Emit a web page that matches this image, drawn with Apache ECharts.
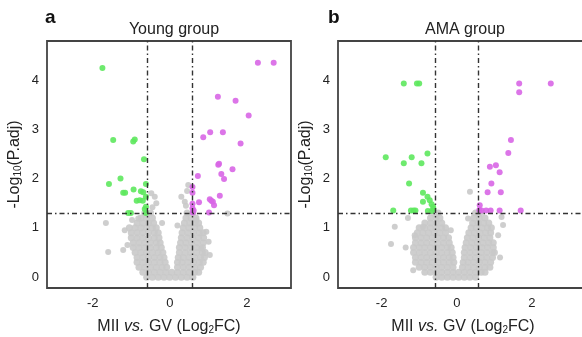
<!DOCTYPE html>
<html>
<head>
<meta charset="utf-8">
<script src="https://cdn.jsdelivr.net/npm/echarts@6/dist/echarts.min.js"></script>
<style>
  html, body { margin: 0; padding: 0; background: #fff; }
  #chart { width: 582px; height: 337px; }
</style>
</head>
<body>
<div id="chart"></div>
<script>
// thresholds
const fcCut = 0.585
const pCut = 1.301

const xTicks = [-2, 0, 2]
const yTicks = [0, 1, 2, 3, 4]

// Young group
const youngDown = [[-1.75,4.24],[-1.47,2.78],[-0.95,2.75],[-0.91,2.79],[-0.67,2.39],[-1.28,2.00],[-1.58,1.89],
  [-1.21,1.71],[-1.16,1.71],[-0.94,1.78],[-0.75,1.74],[-0.62,1.89],[-0.86,1.55],[-0.78,1.56],[-0.70,1.55],
  [-0.62,1.63],[-0.62,1.43],[-1.08,1.30],[-1.01,1.30],[-0.62,1.30],[-0.65,1.38],[-0.69,1.72]]
const youngUp = [[2.29,4.35],[2.70,4.35],[1.25,3.66],[1.71,3.58],[2.05,3.28],[0.87,2.84],[1.05,2.94],[1.38,2.94],
  [1.84,2.71],[1.26,2.28],[1.28,2.30],[1.63,2.19],[0.73,2.05],[1.34,2.09],[1.41,1.99],[0.59,1.83],[0.59,1.71],
  [1.30,1.65],[0.76,1.52],[1.04,1.58],[1.08,1.55],[1.12,1.53],[1.15,1.46],[0.59,1.40],[0.60,1.31],[1.02,1.31],
  [0.59,1.49],[0.62,1.35]]
const youngGreyOut = [[-1.66,1.10],[-1.60,0.51],[-1.21,0.55],[-1.10,0.65],[-1.17,0.95],[-0.98,1.16],[-0.82,1.19],
  [-0.35,1.50],[-0.39,1.63],[-0.48,1.70],[0.30,1.63],[0.39,1.53],[0.48,1.87],[0.69,1.16],[0.95,0.92],[1.01,0.72],
  [1.04,0.45],[1.50,1.29],[0.82,0.58],[0.42,1.45],[0.45,1.75],[-0.45,1.42],[-0.20,1.10],[0.20,1.05]]
// grey cloud, one row per y level: [y, [x values]]
const youngCloud = [
  [0.0, [-0.6,-0.45,-0.3,-0.15,0,0.15,0.3,0.45,0.6]],
  [0.1, [-0.7,-0.55,-0.4,-0.25,-0.1,0.05,0.2,0.35,0.5,0.65,0.75]],
  [0.2, [-0.8,-0.65,-0.5,-0.35,-0.2,-0.08,0.2,0.35,0.5,0.65,0.8]],
  [0.3, [-0.85,-0.7,-0.55,-0.4,-0.25,-0.12,0.2,0.32,0.47,0.62,0.77,0.87]],
  [0.4, [-0.85,-0.7,-0.55,-0.4,-0.25,-0.15,0.22,0.35,0.5,0.65,0.8,0.9]],
  [0.5, [-0.9,-0.75,-0.6,-0.45,-0.3,-0.18,0.25,0.4,0.55,0.7,0.85,0.92]],
  [0.6, [-0.95,-0.8,-0.65,-0.5,-0.35,-0.22,0.25,0.4,0.55,0.7,0.85]],
  [0.7, [-0.95,-0.8,-0.65,-0.5,-0.35,-0.25,0.28,0.42,0.57,0.72,0.87]],
  [0.8, [-1.0,-0.85,-0.7,-0.55,-0.4,-0.28,0.3,0.45,0.6,0.75,0.88]],
  [0.9, [-1.0,-0.85,-0.7,-0.55,-0.4,-0.3,0.32,0.47,0.62,0.77,0.87]],
  [1.0, [-1.05,-0.9,-0.75,-0.6,-0.45,-0.35,0.35,0.5,0.65,0.78]],
  [1.1, [-0.85,-0.7,-0.55,-0.42,0.38,0.52,0.66,0.75]],
  [1.2, [-0.75,-0.6,-0.45,0.42,0.55,0.68]],
  [1.3, [-0.65,-0.5,0.45,0.6]]
]

// AMA group
const amaDown = [[-1.41,3.93],[-1.06,3.93],[-1.00,3.93],[-1.89,2.43],[-1.41,2.31],[-1.20,2.43],[-0.94,2.31],
  [-0.78,2.51],[-1.27,1.90],[-0.90,1.71],[-0.78,1.63],[-0.90,1.53],[-0.72,1.56],[-0.67,1.48],[-0.63,1.43],
  [-1.69,1.35],[-1.22,1.35],[-1.15,1.35],[-1.10,1.35],[-0.77,1.34],[-0.67,1.34],[-0.62,1.38]]
const amaUp = [[1.66,3.93],[2.50,3.93],[1.66,3.75],[1.44,2.78],[1.37,2.52],[0.88,2.24],[1.04,2.27],[1.14,2.13],
  [0.92,1.90],[0.82,1.72],[1.17,1.72],[0.61,1.46],[0.66,1.35],[0.78,1.35],[0.90,1.35],[1.14,1.35],[1.70,1.35],
  [0.60,1.36]]
const amaGreyOut = [[-1.65,1.02],[-1.75,0.67],[-1.36,0.60],[-1.16,0.14],[-1.12,0.85],[-0.90,1.02],[-0.16,0.95],
  [0.35,1.73],[0.30,1.19],[1.19,1.22],[1.23,1.06],[-1.30,1.20],[1.10,0.85],[1.15,0.40]]
const amaCloud = [
  [0.0, [-0.55,-0.4,-0.25,-0.1,0.05,0.2,0.35,0.5]],
  [0.1, [-0.85,-0.7,-0.55,-0.4,-0.25,-0.1,0.05,0.2,0.35,0.5,0.65,0.75]],
  [0.2, [-1.0,-0.85,-0.7,-0.55,-0.4,-0.25,-0.1,0.15,0.3,0.45,0.6,0.75,0.88]],
  [0.3, [-1.1,-0.95,-0.8,-0.65,-0.5,-0.35,-0.2,-0.08,0.17,0.3,0.45,0.6,0.75,0.9]],
  [0.4, [-1.1,-0.95,-0.8,-0.65,-0.5,-0.35,-0.2,-0.1,0.2,0.35,0.5,0.65,0.8,0.95]],
  [0.5, [-1.15,-1.0,-0.85,-0.7,-0.55,-0.4,-0.25,-0.12,0.2,0.35,0.5,0.65,0.8,0.95,1.0]],
  [0.6, [-1.15,-1.0,-0.85,-0.7,-0.55,-0.4,-0.25,-0.15,0.22,0.37,0.52,0.67,0.82,0.97]],
  [0.7, [-1.1,-0.95,-0.8,-0.65,-0.5,-0.35,-0.2,0.25,0.4,0.55,0.7,0.85,0.97]],
  [0.8, [-1.1,-0.95,-0.8,-0.65,-0.5,-0.35,-0.22,0.28,0.43,0.58,0.73,0.88]],
  [0.9, [-1.05,-0.9,-0.75,-0.6,-0.45,-0.3,0.32,0.47,0.62,0.77,0.9]],
  [1.0, [-1.0,-0.85,-0.7,-0.55,-0.4,-0.3,0.38,0.52,0.67,0.82,0.92]],
  [1.1, [-0.85,-0.7,-0.55,-0.4,0.42,0.57,0.72,0.85]],
  [1.2, [-0.7,-0.55,-0.45,0.45,0.6,0.75]],
  [1.3, [-0.6,-0.5,0.5,0.62]]
]

const FONT = "'Liberation Sans', Arial, sans-serif"
const GREY = '#c9c9c9'
const GREEN = '#5ee85e'
const MAGENTA = '#d866e6'
const INK = '#222'

const cloudPoints = (rows) => rows.flatMap(([y, xs]) => xs.map(x => [x, y]))

const chart = echarts.init(document.getElementById('chart'))

const grids = [
  { left: 47, top: 41, width: 244, height: 247 },
  { left: 338, top: 41, width: 250, height: 247 }
]

const xAxisFor = (i, min, max) => ({
  type: 'value', gridIndex: i, min, max,
  splitLine: { show: false },
  axisTick: { show: false },
  axisLine: { show: false },
  axisLabel: { customValues: xTicks, fontSize: 13, color: INK, fontFamily: FONT, margin: 9 },
  name: 'MII {it|vs.} GV (Log{sub|2}FC)',
  nameLocation: 'middle',
  nameGap: 31,
  nameTextStyle: {
    fontSize: 16, color: INK, fontFamily: FONT,
    rich: {
      it: { fontSize: 16, fontStyle: 'italic', color: INK, fontFamily: FONT },
      sub: { fontSize: 10, color: INK, fontFamily: FONT, verticalAlign: 'bottom', lineHeight: 10 }
    }
  }
})

const yAxisFor = (i) => ({
  type: 'value', gridIndex: i, min: -0.22, max: 4.79,
  splitLine: { show: false },
  axisTick: { show: false },
  axisLine: { show: false },
  axisLabel: { customValues: yTicks, fontSize: 13, color: INK, fontFamily: FONT, margin: 8 },
  name: '-Log{sub|10}(P.adj)',
  nameLocation: 'middle',
  nameGap: 24,
  nameTextStyle: {
    fontSize: 16, color: INK, fontFamily: FONT,
    rich: {
      sub: { fontSize: 10, color: INK, fontFamily: FONT, verticalAlign: 'bottom', lineHeight: 10 }
    }
  }
})

const dots = (i, data, color, size) => ({
  type: 'scatter', xAxisIndex: i, yAxisIndex: i, data,
  symbolSize: size, silent: true,
  itemStyle: { color, opacity: 0.9 }
})

const cutLines = (i) => ({
  type: 'scatter', xAxisIndex: i, yAxisIndex: i, data: [], z: 5,
  markLine: {
    silent: true, symbol: 'none', label: { show: false },
    lineStyle: { color: '#333', width: 1.4, type: [5, 3, 1.5, 3] },
    data: [{ xAxis: -fcCut }, { xAxis: fcCut }, { yAxis: pCut }]
  }
})

const option = {
  backgroundColor: '#fff',
  animation: false,
  title: [
    { text: 'a', left: 40, top: 3, textStyle: { fontSize: 19, fontWeight: 'bold', color: '#111', fontFamily: FONT } },
    { text: 'Young group', left: 169, top: 17, textAlign: 'center', textStyle: { fontSize: 16, fontWeight: 'normal', color: INK, fontFamily: FONT } },
    { text: 'b', left: 323, top: 3, textStyle: { fontSize: 19, fontWeight: 'bold', color: '#111', fontFamily: FONT } },
    { text: 'AMA group', left: 460, top: 17, textAlign: 'center', textStyle: { fontSize: 16, fontWeight: 'normal', color: INK, fontFamily: FONT } }
  ],
  grid: grids.map(g => ({ ...g, show: true, borderColor: '#444', borderWidth: 1.8, containLabel: false, outerBoundsMode: 'none' })),
  xAxis: [xAxisFor(0, -3.19, 3.15), xAxisFor(1, -3.16, 3.49)],
  yAxis: [yAxisFor(0), yAxisFor(1)],
  series: [
    dots(0, cloudPoints(youngCloud), GREY, 7),
    dots(0, youngGreyOut, GREY, 6),
    dots(0, youngDown, GREEN, 6),
    dots(0, youngUp, MAGENTA, 6),
    cutLines(0),
    dots(1, cloudPoints(amaCloud), GREY, 7),
    dots(1, amaGreyOut, GREY, 6),
    dots(1, amaDown, GREEN, 6),
    dots(1, amaUp, MAGENTA, 6),
    cutLines(1)
  ]
}

chart.setOption(option)
</script>
</body>
</html>
